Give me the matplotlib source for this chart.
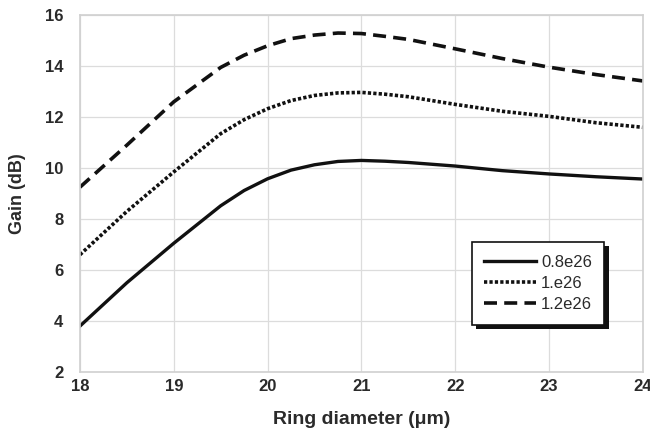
import matplotlib
matplotlib.use("Agg")
import matplotlib.pyplot as plt
from matplotlib.patches import Shadow

plt.rcParams['font.family'] = ['Liberation Sans', 'DejaVu Sans']

# Ring diameter (um)
diameter = [18, 18.5, 19, 19.5, 19.75, 20, 20.25, 20.5, 20.75, 21, 21.25, 21.5, 22, 22.5, 23, 23.5, 24]

# Gain (dB) for each pump density
gain_08e26 = [3.8, 5.5, 7.05, 8.52, 9.12, 9.58, 9.92, 10.13, 10.26, 10.3, 10.27, 10.22, 10.08, 9.9, 9.77, 9.66, 9.57]
gain_1e26 = [6.6, 8.3, 9.85, 11.35, 11.9, 12.33, 12.65, 12.85, 12.95, 12.97, 12.9, 12.8, 12.5, 12.23, 12.03, 11.78, 11.6]
gain_12e26 = [9.25, 10.9, 12.6, 13.95, 14.43, 14.8, 15.08, 15.22, 15.3, 15.28, 15.17, 15.05, 14.68, 14.3, 13.96, 13.67, 13.42]

series_labels = ["0.8e26", "1.e26", "1.2e26"]
x_ticks = [18, 19, 20, 21, 22, 23, 24]
y_ticks = [2, 4, 6, 8, 10, 12, 14, 16]

fig = plt.figure(figsize=(6.5, 4.34), dpi=100)
ax = fig.add_axes([0.123, 0.143, 0.866, 0.822])

ax.plot(diameter, gain_08e26, color="#111111", lw=2.4, ls="-", label=series_labels[0])
ax.plot(diameter, gain_1e26, color="#111111", lw=2.6, ls=(0, (0.9, 0.6)), label=series_labels[1])
ax.plot(diameter, gain_12e26, color="#111111", lw=2.6, ls=(0, (3.6, 2.0)), label=series_labels[2])

ax.set_xlim(18, 24)
ax.set_ylim(2, 16)
ax.set_xticks(x_ticks)
ax.set_yticks(y_ticks)
ax.grid(True, color="#dcdcdc", lw=0.9)
ax.set_axisbelow(True)
for sp in ax.spines.values():
    sp.set_color("#d0d0d0")
    sp.set_linewidth(1.2)

ax.tick_params(length=0, labelsize=12, labelcolor="#2a2a2a")
ax.tick_params(axis="y", pad=12)
ax.tick_params(axis="x", pad=5)
for lab in ax.get_xticklabels() + ax.get_yticklabels():
    lab.set_fontweight("bold")

ax.set_xlabel("Ring diameter (\u03bcm)", fontsize=14, fontweight="bold", color="#2a2a2a")
ax.set_ylabel("Gain (dB)", fontsize=13, fontweight="bold", color="#2a2a2a")
ax.xaxis.set_label_coords(0.5, -0.109)
ax.yaxis.set_label_coords(-0.096, 0.5)

leg = ax.legend(loc="upper left", bbox_to_anchor=(0.696, 0.364), fontsize=12,
                frameon=True, fancybox=False, handlelength=3.1, handletextpad=0.3,
                borderpad=0.75, labelspacing=0.38, borderaxespad=0)
frame = leg.get_frame()
frame.set_edgecolor("#111111")
frame.set_linewidth(1.2)
frame.set_facecolor("white")
frame.set_alpha(1)
leg.set_zorder(10)
for t in leg.get_texts():
    t.set_color("#2a2a2a")

fig.canvas.draw()
shadow = Shadow(frame, 3, -3, facecolor="#111111", alpha=1, edgecolor="none", zorder=9)
shadow.set_transform(frame.get_transform())
ax.add_artist(shadow)

fig.savefig("out.png", dpi=100)
